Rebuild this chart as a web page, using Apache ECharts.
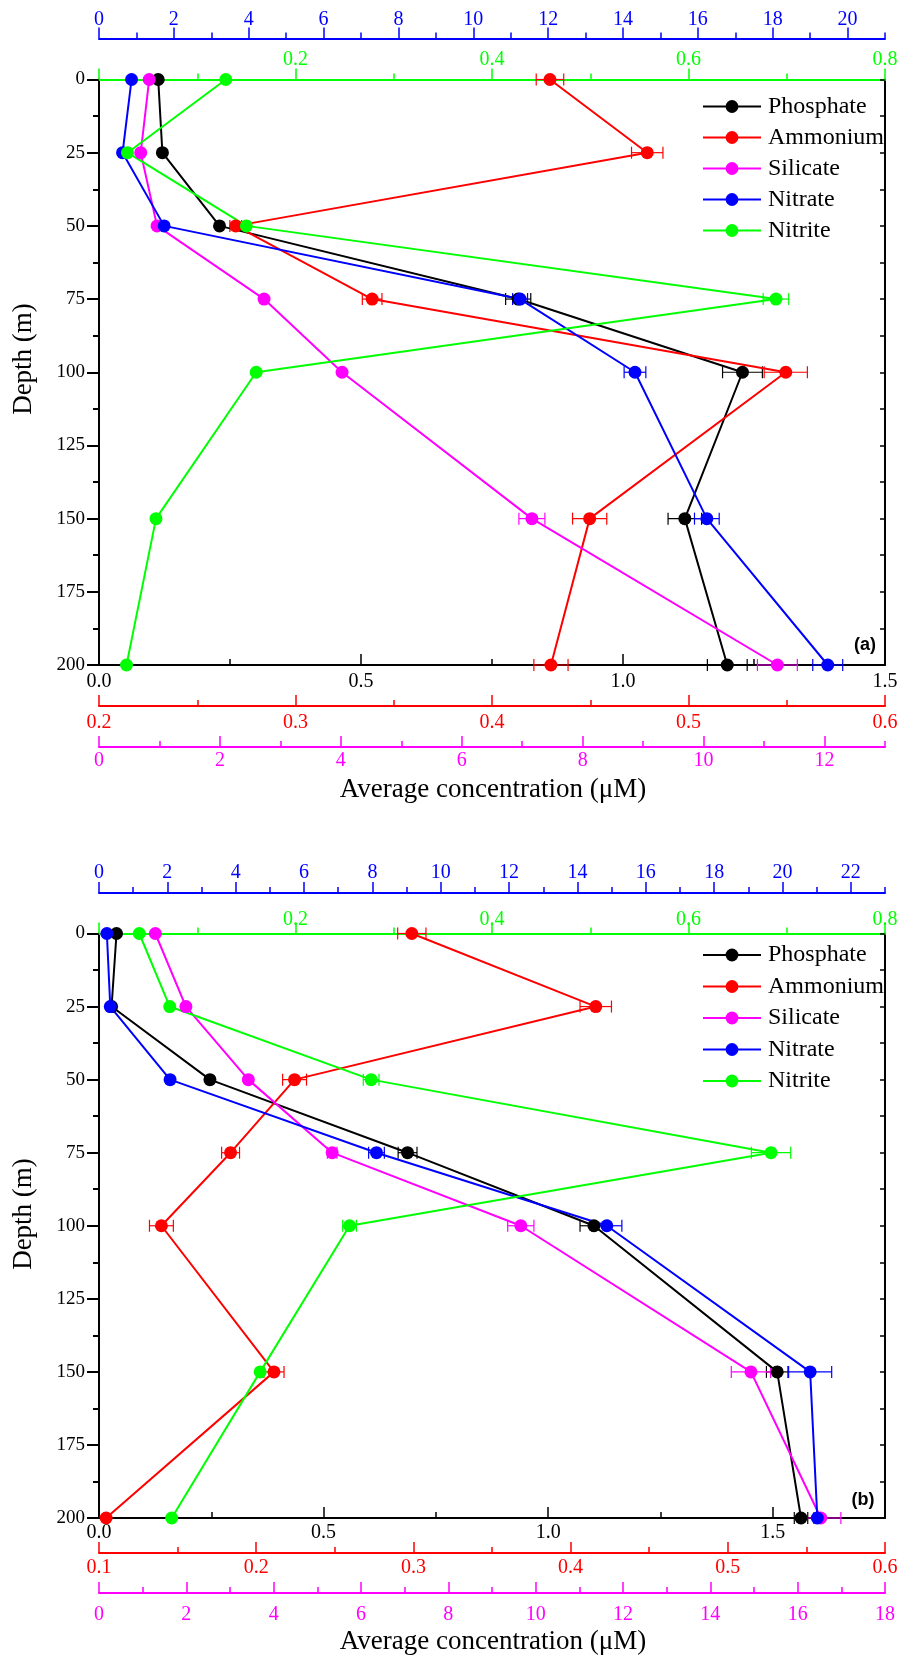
<!DOCTYPE html>
<html>
<head>
<meta charset="utf-8">
<script src="https://cdn.jsdelivr.net/npm/echarts@6/dist/echarts.min.js"></script>
<style>
  html, body { margin: 0; padding: 0; background: #fff; }
  #chart { width: 911px; height: 1656px; }
</style>
</head>
<body>
<div id="chart"></div>
<script>
// depths (m)
var depths = [0, 25, 50, 75, 100, 150, 200]

// panel (a)
var phosphateA = [0.113, 0.121, 0.230, 0.80, 1.228, 1.118, 1.199]
var phosphateErrA = [0, 0, 0, 0.024, 0.038, 0.032, 0.038]
var ammoniumA = [0.4295, 0.479, 0.2696, 0.339, 0.5495, 0.4497, 0.430]
var ammoniumErrA = [0.007, 0.008, 0.003, 0.005, 0.011, 0.0087, 0.0087]
var silicateA = [0.83, 0.69, 0.96, 2.73, 4.02, 7.16, 11.22]
var silicateErrA = [0, 0, 0, 0, 0, 0.215, 0.33]
var nitrateA = [0.87, 0.63, 1.74, 11.25, 14.32, 16.24, 19.47]
var nitrateErrA = [0, 0, 0, 0.2, 0.29, 0.33, 0.4]
var nitriteA = [0.129, 0.029, 0.150, 0.689, 0.160, 0.058, 0.028]
var nitriteErrA = [0, 0, 0, 0.013, 0, 0, 0]

// panel (b)
var phosphateB = [0.039, 0.028, 0.247, 0.687, 1.102, 1.510, 1.563]
var phosphateErrB = [0, 0, 0, 0.021, 0.031, 0.024, 0.015]
var ammoniumB = [0.299, 0.416, 0.2244, 0.1837, 0.1397, 0.2113, 0.1045]
var ammoniumErrB = [0.009, 0.010, 0.0076, 0.0057, 0.0076, 0.0064, 0]
var silicateB = [1.29, 1.99, 3.42, 5.34, 9.66, 14.93, 16.53]
var silicateErrB = [0, 0, 0, 0.11, 0.30, 0.45, 0.46]
var nitrateB = [0.23, 0.33, 2.08, 8.12, 14.86, 20.81, 21.02]
var nitrateErrB = [0, 0, 0, 0.23, 0.44, 0.63, 0.1]
var nitriteB = [0.041, 0.072, 0.277, 0.684, 0.255, 0.164, 0.074]
var nitriteErrB = [0, 0, 0.008, 0.020, 0.007, 0, 0]

var names = ['Phosphate', 'Ammonium', 'Silicate', 'Nitrate', 'Nitrite']
var colors = ['#000000', '#ff0000', '#ff00ff', '#0000ff', '#00ff00']

// tick labels
var blackLabels = [0, 0.5, 1.0, 1.5]
var blackMinorA = [0.25, 0.75, 1.25]
var blackMinorB = [0.25, 0.75, 1.25, 1.75]
var redLabelsA = [0.2, 0.3, 0.4, 0.5, 0.6]
var redMinorA = [0.25, 0.35, 0.45, 0.55]
var redLabelsB = [0.1, 0.2, 0.3, 0.4, 0.5, 0.6]
var redMinorB = [0.15, 0.25, 0.35, 0.45, 0.55]
var silLabelsA = [0, 2, 4, 6, 8, 10, 12]
var silMinorA = [1, 3, 5, 7, 9, 11, 13]
var silLabelsB = [0, 2, 4, 6, 8, 10, 12, 14, 16, 18]
var silMinorB = [1, 3, 5, 7, 9, 11, 13, 15, 17]
var nitLabelsA = [0, 2, 4, 6, 8, 10, 12, 14, 16, 18, 20]
var nitMinorA = [1, 3, 5, 7, 9, 11, 13, 15, 17, 19, 21]
var nitLabelsB = [0, 2, 4, 6, 8, 10, 12, 14, 16, 18, 20, 22]
var nitMinorB = [1, 3, 5, 7, 9, 11, 13, 15, 17, 19, 21, 23]
var greenLabels = [0.2, 0.4, 0.6, 0.8]
var greenMajor = [0, 0.2, 0.4, 0.6, 0.8]
var greenMinor = [0.1, 0.3, 0.5, 0.7]

var SERIF = 'Liberation Serif'

function fmt1(v) { return Number(v).toFixed(1) }
function fmt0(v) { return String(Math.round(v)) }

// one scale = a major axis (line, labels, long ticks) + a minor axis (short ticks)
function scaleAxes(grid, pos, offset, color, min, max, labels, majors, minors, formatter, inside, margin) {
  var major = {
    type: 'value', gridIndex: grid, position: pos, offset: offset, min: min, max: max,
    axisLine: { show: true, onZero: false, lineStyle: { color: color, width: 2 } },
    axisTick: { show: true, inside: inside, length: 11, customValues: majors, lineStyle: { color: color, width: 1.5 } },
    axisLabel: { show: true, customValues: labels, formatter: formatter, color: color, fontFamily: SERIF, fontSize: 20, margin: margin },
    splitLine: { show: false }
  }
  var minor = {
    type: 'value', gridIndex: grid, position: pos, offset: offset, min: min, max: max,
    axisLine: { show: false, onZero: false },
    axisTick: { show: true, inside: inside, length: 6, customValues: minors, lineStyle: { color: color, width: 1.5 } },
    axisLabel: { show: false },
    splitLine: { show: false }
  }
  return [major, minor]
}

var xAxes = [].concat(
  // panel a: 0 black, 2 red, 4 silicate, 6 nitrate, 8 nitrite
  scaleAxes(0, 'bottom', 0, '#000', 0, 1.5, blackLabels, blackLabels, blackMinorA, fmt1, true, 7),
  scaleAxes(0, 'bottom', 41, '#ff0000', 0.2, 0.6, redLabelsA, redLabelsA, redMinorA, fmt1, true, 7),
  scaleAxes(0, 'bottom', 82, '#ff00ff', 0, 13, silLabelsA, silLabelsA, silMinorA, fmt0, true, 4),
  scaleAxes(0, 'top', 41, '#0000ff', 0, 21, nitLabelsA, nitLabelsA, nitMinorA, fmt0, false, 9),
  scaleAxes(0, 'top', 0, '#00ff00', 0, 0.8, greenLabels, greenMajor, greenMinor, fmt1, false, 10),
  // panel b: 10 black, 12 red, 14 silicate, 16 nitrate, 18 nitrite
  scaleAxes(1, 'bottom', 0, '#000', 0, 1.75, blackLabels, blackLabels, blackMinorB, fmt1, true, 5),
  scaleAxes(1, 'bottom', 35, '#ff0000', 0.1, 0.6, redLabelsB, redLabelsB, redMinorB, fmt1, true, 5),
  scaleAxes(1, 'bottom', 75, '#ff00ff', 0, 18, silLabelsB, silLabelsB, silMinorB, fmt0, true, 12),
  scaleAxes(1, 'top', 40.5, '#0000ff', 0, 23, nitLabelsB, nitLabelsB, nitMinorB, fmt0, false, 10),
  scaleAxes(1, 'top', 0, '#00ff00', 0, 0.8, greenLabels, greenMajor, greenMinor, fmt1, false, 4)
)

function depthAxes(grid) {
  return [
    {
      type: 'value', gridIndex: grid, position: 'left', inverse: true, min: 0, max: 200, interval: 25,
      axisLine: { show: true, onZero: false, lineStyle: { color: '#000', width: 2 } },
      axisTick: { show: true, length: 12, lineStyle: { color: '#000', width: 2 } },
      axisLabel: { color: '#000', fontFamily: SERIF, fontSize: 19, margin: 14 },
      splitLine: { show: false }
    },
    {
      type: 'value', gridIndex: grid, position: 'left', inverse: true, min: 0, max: 200, interval: 12.5,
      axisLine: { show: false, onZero: false },
      axisTick: { show: true, length: 6, lineStyle: { color: '#000', width: 2 } },
      axisLabel: { show: false },
      splitLine: { show: false }
    },
    {
      type: 'value', gridIndex: grid, position: 'right', inverse: true, min: 0, max: 200, interval: 12.5,
      axisLine: { show: true, onZero: false, lineStyle: { color: '#000', width: 2 } },
      axisTick: { show: true, inside: true, length: 5, lineStyle: { color: '#000', width: 1.5 } },
      axisLabel: { show: false },
      splitLine: { show: false }
    }
  ]
}
var yAxes = depthAxes(0).concat(depthAxes(1))

function pairs(vals) {
  return vals.map(function(v, i) { return [v, depths[i]] })
}
function errTriples(vals, errs) {
  var out = []
  vals.forEach(function(v, i) { if (errs[i] > 0) out.push([v, depths[i], errs[i]]) })
  return out
}

function errorSeries(vals, errs, xIdx, yIdx, color) {
  return {
    type: 'custom', xAxisIndex: xIdx, yAxisIndex: yIdx, silent: true, z: 1,
    data: errTriples(vals, errs),
    renderItem: function(params, api) {
      var x = api.value(0), y = api.value(1), e = api.value(2)
      var p1 = api.coord([x - e, y])
      var p2 = api.coord([x + e, y])
      var st = { stroke: color, lineWidth: 1.2 }
      return {
        type: 'group',
        children: [
          { type: 'line', shape: { x1: p1[0], y1: p1[1], x2: p2[0], y2: p2[1] }, style: st },
          { type: 'line', shape: { x1: p1[0], y1: p1[1] - 6, x2: p1[0], y2: p1[1] + 6 }, style: st },
          { type: 'line', shape: { x1: p2[0], y1: p2[1] - 6, x2: p2[0], y2: p2[1] + 6 }, style: st }
        ]
      }
    }
  }
}

function lineSeries(name, vals, xIdx, yIdx, color) {
  return {
    name: name, type: 'line', xAxisIndex: xIdx, yAxisIndex: yIdx, z: 2,
    data: pairs(vals),
    symbol: 'circle', symbolSize: 13,
    itemStyle: { color: color },
    lineStyle: { color: color, width: 2 },
    emphasis: { disabled: true }
  }
}

var panelA = [
  [phosphateA, phosphateErrA, 0], [ammoniumA, ammoniumErrA, 2], [silicateA, silicateErrA, 4],
  [nitrateA, nitrateErrA, 6], [nitriteA, nitriteErrA, 8]
]
var panelB = [
  [phosphateB, phosphateErrB, 10], [ammoniumB, ammoniumErrB, 12], [silicateB, silicateErrB, 14],
  [nitrateB, nitrateErrB, 16], [nitriteB, nitriteErrB, 18]
]

var series = []
panelA.forEach(function(p, i) {
  series.push(errorSeries(p[0], p[1], p[2], 0, colors[i]))
  series.push(lineSeries(names[i], p[0], p[2], 0, colors[i]))
})
panelB.forEach(function(p, i) {
  series.push(errorSeries(p[0], p[1], p[2], 3, colors[i]))
  series.push(lineSeries(names[i], p[0], p[2], 3, colors[i]))
})

function legendAt(top, gap) {
  return {
    orient: 'vertical', left: 697, top: top, itemWidth: 58, itemHeight: 16, itemGap: gap,
    data: names, selectedMode: false,
    textStyle: { fontFamily: SERIF, fontSize: 24, color: '#000', lineHeight: 24, padding: [0, 0, 0, 2] }
  }
}

function label(text, x, y, size, rotate, font, weight) {
  return {
    type: 'text', x: x, y: y, rotation: rotate || 0,
    style: { text: text, font: (weight || 'normal') + ' ' + size + 'px "' + (font || SERIF) + '"', fill: '#000', align: 'center', verticalAlign: 'middle' }
  }
}

var chart = echarts.init(document.getElementById('chart'), null, { renderer: 'canvas' })
chart.setOption({
  animation: false,
  backgroundColor: '#fff',
  grid: [
    { left: 99, top: 79.5, width: 786, height: 585.5 },
    { left: 99, top: 933.5, width: 786, height: 584.5 }
  ],
  xAxis: xAxes,
  yAxis: yAxes,
  legend: [legendAt(89.5, 7), legendAt(938, 7.5)],
  graphic: [
    label('Average concentration (\u03bcM)', 493, 790, 27),
    label('Average concentration (\u03bcM)', 493, 1642, 27),
    label('Depth (m)', 24, 359, 27, Math.PI / 2),
    label('Depth (m)', 24, 1214, 27, Math.PI / 2),
    label('(a)', 865, 645, 18, 0, 'Liberation Sans', 'bold'),
    label('(b)', 863, 1500, 18, 0, 'Liberation Sans', 'bold')
  ],
  series: series
})
</script>
</body>
</html>
